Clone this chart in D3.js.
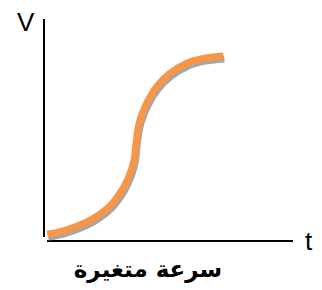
<!DOCTYPE html>
<html><head><meta charset="utf-8">
<script src="https://cdn.jsdelivr.net/npm/d3@7"></script>
<style>body{margin:0;background:#fff}svg{display:block}</style>
</head><body>
<script>
const tValues = [0.01, 0.56, 1.23, 1.91, 2.59, 3.13, 3.43, 3.54, 3.60, 3.65, 3.78, 4.05, 4.46, 5.0, 5.68, 6.35, 7.17];
const vValues = [0.27, 0.38, 0.63, 0.995, 1.58, 2.41, 3.17, 3.62, 4.16, 4.67, 5.43, 6.19, 6.94, 7.54, 8.0, 8.22, 8.33];
const xLabel = "t";
const yLabel = "V";
const caption = "سرعة متغيرة";

const W = 322, H = 290;
const svg = d3.select("body").append("svg").attr("width", W).attr("height", H);
const x = d3.scaleLinear().domain([0, 10]).range([47, 293]);
const y = d3.scaleLinear().domain([0, 10]).range([240, 19]);

// axes
svg.append("line").attr("x1", 44).attr("x2", 44).attr("y1", y(10)).attr("y2", 237)
  .attr("stroke", "#000").attr("stroke-width", 2);
svg.append("line").attr("x1", x(0)).attr("x2", x(10)).attr("y1", 241).attr("y2", 241)
  .attr("stroke", "#000").attr("stroke-width", 2);

const pts = tValues.map((t, i) => [t, vValues[i]]);
const line = d3.line().x(d => x(d[0])).y(d => y(d[1])).curve(d3.curveCatmullRom.alpha(0.5));

svg.append("path").attr("d", line(pts)).attr("fill", "none")
  .attr("stroke", "#A6A6A6").attr("stroke-width", 7).attr("transform", "translate(1,3)");
svg.append("path").attr("d", line(pts)).attr("fill", "none")
  .attr("stroke", "#F79646").attr("stroke-width", 7);

svg.append("text").attr("x", 17).attr("y", 31).text(yLabel)
  .attr("font-family", "Liberation Sans, Arial, sans-serif").attr("font-size", 26);
svg.append("text").attr("x", 305).attr("y", 250).text(xLabel)
  .attr("font-family", "Liberation Sans, Arial, sans-serif").attr("font-size", 26);
svg.append("text").attr("x", 148).attr("y", 277).attr("text-anchor", "middle")
  .attr("direction", "rtl")
  .text(caption).attr("font-family", "DejaVu Sans, sans-serif").attr("font-weight", "bold").attr("font-size", 23);
</script>
</body></html>
